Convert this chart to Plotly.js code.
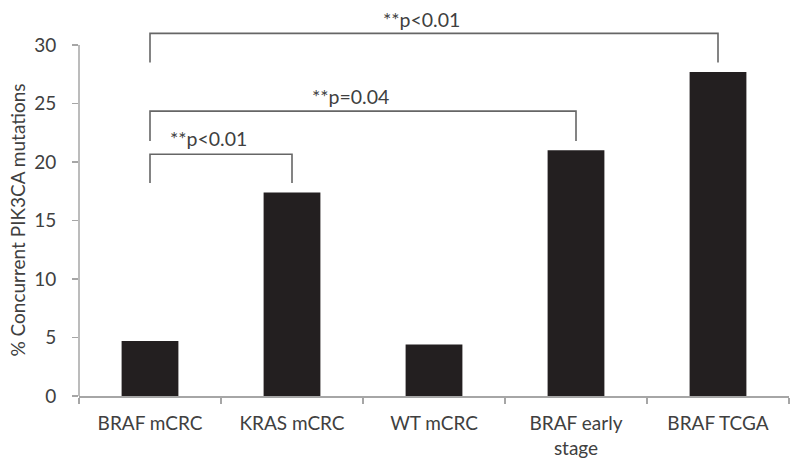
<!DOCTYPE html>
<html>
<head>
<meta charset="utf-8">
<script src="https://cdn.plot.ly/plotly-3.0.1.min.js"></script>
<style>html,body{margin:0;padding:0;background:#fff;}#chart{width:800px;height:473px;}</style>
</head>
<body>
<div id="chart"></div>
<script>
// Data
var categories = ["BRAF mCRC", "KRAS mCRC", "WT mCRC", "BRAF early<br>stage", "BRAF TCGA"];
var values = [4.7, 17.4, 4.4, 21.0, 27.7];
var yTicks = [0, 5, 10, 15, 20, 25, 30];
var yTitle = "% Concurrent PIK3CA mutations";

// Significance brackets
var bracketFrom = [0, 0, 0];
var bracketTo = [4, 3, 1];
var bracketTop = [31.0, 24.35, 20.66];
var bracketBottom = [28.5, 21.8, 18.2];
var bracketLabels = ["**p<0.01", "**p=0.04", "**p<0.01"];
var labelX = [1.91, 1.41, 0.41];
var labelY = [32.2, 25.64, 21.97];

var FONT = "Lato, 'Open Sans', sans-serif";
var TXT = "#404040";
var AXC = "#a6a6a6";
var BRC = "#666666";

var traces = [{
  type: "bar",
  x: categories,
  y: values,
  width: 0.4,
  marker: {color: "#231f20"},
  hoverinfo: "x+y"
}];

for (var i = 0; i < bracketFrom.length; i++) {
  var a = categories[bracketFrom[i]], b = categories[bracketTo[i]];
  traces.push({
    type: "scatter",
    mode: "lines",
    x: [a, a, b, b],
    y: [bracketBottom[i], bracketTop[i], bracketTop[i], bracketBottom[i]],
    line: {color: BRC, width: 1.6},
    hoverinfo: "skip"
  });
}

var annotations = bracketLabels.map(function (t, i) {
  return {
    x: labelX[i], y: labelY[i], xref: "x", yref: "y",
    text: t, showarrow: false,
    font: {family: FONT, size: 19.5, color: TXT},
    xanchor: "center", yanchor: "middle"
  };
});

// y-axis title centred on the 0-30 axis span
annotations.push({
  x: 0, xref: "paper", xshift: -61, xanchor: "center",
  y: (yTicks[0] + yTicks[yTicks.length - 1]) / 2, yref: "y", yanchor: "middle",
  text: yTitle, textangle: -90, showarrow: false,
  font: {family: FONT, size: 19, color: TXT}
});

var layout = {
  width: 800, height: 473,
  margin: {l: 79, r: 11, t: 0, b: 77},
  paper_bgcolor: "#fff", plot_bgcolor: "#fff",
  showlegend: false,
  font: {family: FONT, size: 19, color: TXT},
  xaxis: {
    type: "category",
    showline: true, linecolor: AXC, linewidth: 1.5,
    ticks: "outside", tickson: "boundaries", ticklen: 6, tickcolor: AXC, tickwidth: 1.5,
    tickfont: {family: FONT, size: 19, color: TXT},
    showgrid: false, zeroline: false,
    ticklabelstandoff: 10,
    range: [-0.5, 4.5]
  },
  yaxis: {
    range: [0, 33.85],
    tickmode: "array", tickvals: yTicks,
    ticks: "outside", ticklen: 6, tickcolor: AXC, tickwidth: 1.5,
    tickfont: {family: FONT, size: 19, color: TXT},
    showline: false, showgrid: false, zeroline: false,
    ticklabelstandoff: 12
  },
  shapes: [{
    type: "line", xref: "paper", yref: "y",
    x0: 0, x1: 0, y0: yTicks[0], y1: yTicks[yTicks.length - 1],
    line: {color: AXC, width: 1.5}
  }],
  annotations: annotations
};

Plotly.newPlot("chart", traces, layout, {displayModeBar: false, staticPlot: true});
</script>
</body>
</html>
